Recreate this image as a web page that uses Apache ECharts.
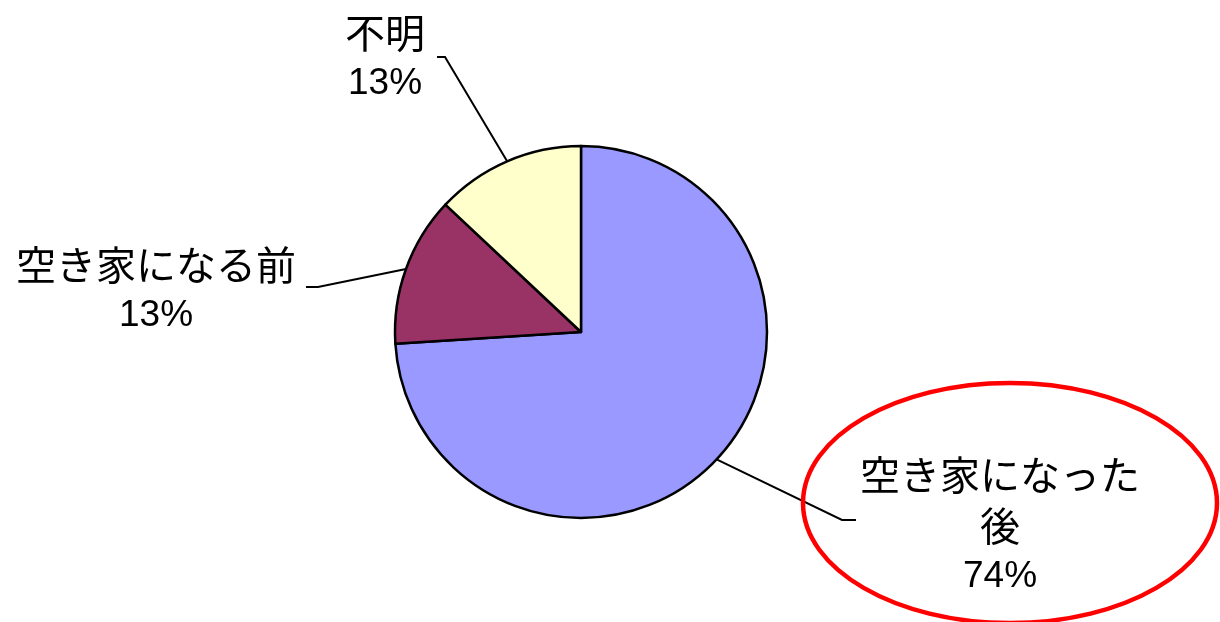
<!DOCTYPE html>
<html>
<head>
<meta charset="utf-8">
<script src="https://cdn.jsdelivr.net/npm/echarts@6/dist/echarts.min.js"></script>
<style>
  html, body { margin: 0; padding: 0; background: #fff; }
  #chart { width: 1220px; height: 622px; }
</style>
</head>
<body>
<div id="chart"></div>
<script>
// 空き家になった時期
let nameData = ['空き家になった\n後', '空き家になる前', '不明']
let valueData = [74, 13, 13]
let colorData = ['#9999FF', '#993366', '#FFFFCC']

// label placement (center of text block, elbow of leader line, end of leader line)
let labelPos = [
  { x: 1000, y: 526, elbow: [842, 520], end: [856, 520] },
  { x: 156, y: 290, elbow: [318, 287], end: [306, 287] },
  { x: 385, y: 58, elbow: [445, 57], end: [437, 57] }
]

let seriesData = []
nameData.forEach((val, index) => {
  seriesData.push({
    name: val,
    value: valueData[index],
    itemStyle: { color: colorData[index] }
  })
})

let Chart = echarts.init(document.getElementById('chart'))
Chart.setOption({
  backgroundColor: '#fff',
  animation: false,
  series: [{
    type: 'pie',
    center: [581, 332],
    radius: 186,
    startAngle: 90,
    clockwise: true,
    data: seriesData,
    itemStyle: {
      borderColor: '#000',
      borderWidth: 2.5
    },
    label: {
      show: true,
      position: 'outside',
      formatter: '{n|{b}}\n{p|{d}%}',
      align: 'center',
      rich: {
        n: {
          fontFamily: '"Noto Sans CJK JP", sans-serif',
          fontSize: 40,
          lineHeight: 51,
          color: '#000',
          align: 'center'
        },
        p: {
          fontFamily: '"Liberation Sans", Arial, sans-serif',
          fontSize: 37,
          lineHeight: 51,
          color: '#000',
          align: 'center'
        }
      }
    },
    labelLine: {
      show: true,
      lineStyle: { color: '#000', width: 2 }
    },
    labelLayout: function (params) {
      let p = labelPos[params.dataIndex]
      let start = params.labelLinePoints ? params.labelLinePoints[0] : p.elbow
      return {
        x: p.x,
        y: p.y,
        align: 'center',
        verticalAlign: 'middle',
        labelLinePoints: [start, p.elbow, p.end]
      }
    }
  }],
  graphic: [{
    type: 'ellipse',
    shape: { cx: 1010, cy: 503, rx: 207, ry: 120 },
    style: { fill: 'none', stroke: '#FF0000', lineWidth: 4.5 },
    z: 10
  }]
})
</script>
</body>
</html>
